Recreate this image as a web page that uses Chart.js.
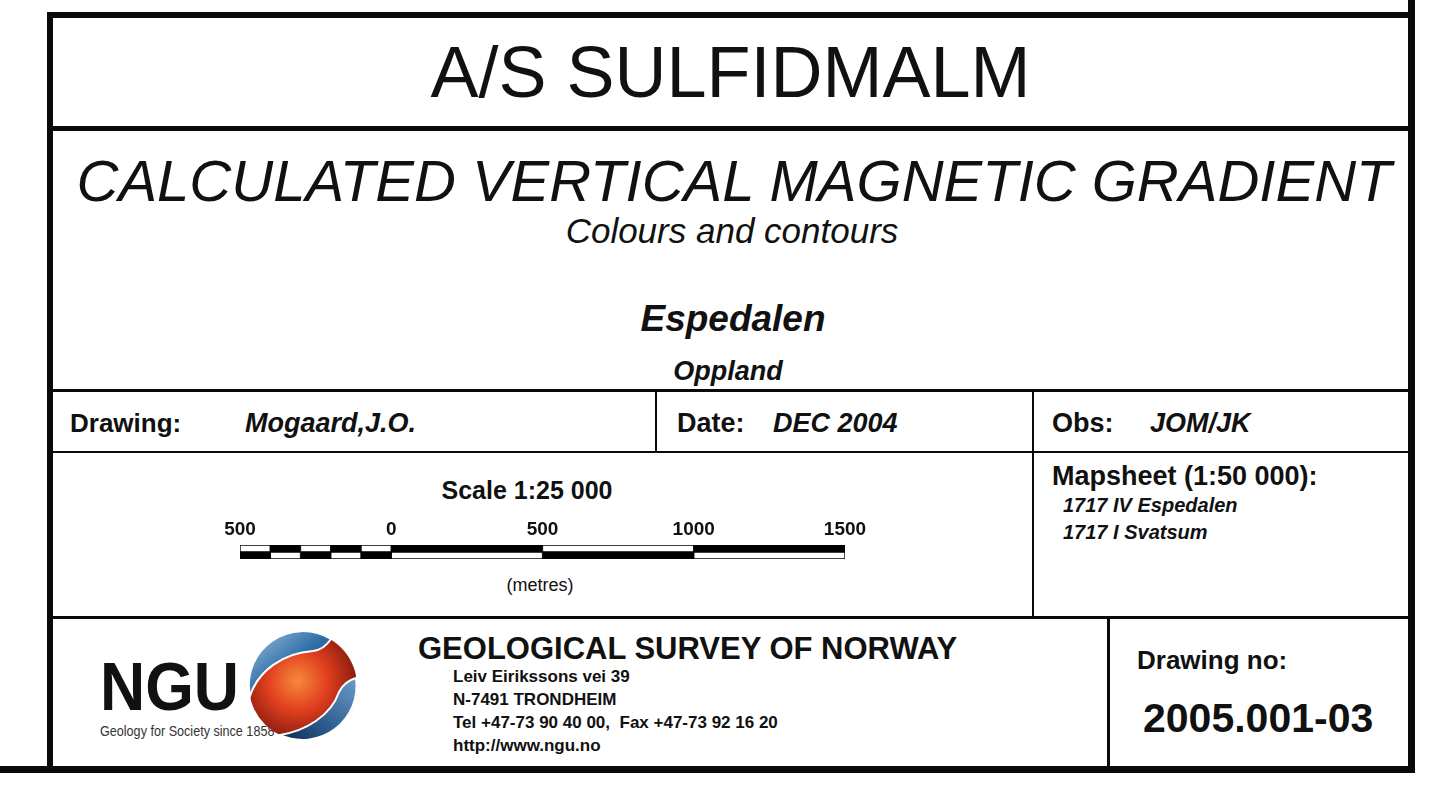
<!DOCTYPE html>
<html>
<head>
<meta charset="utf-8">
<script src="https://cdn.jsdelivr.net/npm/chart.js@4.4.1/dist/chart.umd.min.js"></script>
<style>
  html,body{margin:0;padding:0;background:#fff;}
  body{width:1440px;height:790px;position:relative;overflow:hidden;font-family:"Liberation Sans",Arial,Helvetica,sans-serif;color:#111;}
  .ln{position:absolute;background:#0a0a0a;}
  .t{position:absolute;white-space:nowrap;line-height:1;transform:translateY(-50%);}
  .c{text-align:center;}
  .b{font-weight:bold;}
  .i{font-style:italic;}
  #scaleWrap{position:absolute;left:200px;top:505px;width:685px;height:55px;}
</style>
</head>
<body>
<!-- frame lines -->
<div class="ln" style="left:47px;top:12px;width:1368px;height:6px;"></div>
<div class="ln" style="left:47px;top:12px;width:6px;height:761px;"></div>
<div class="ln" style="left:1408px;top:0px;width:7px;height:773px;"></div>
<div class="ln" style="left:0px;top:766px;width:1415px;height:7px;"></div>
<div class="ln" style="left:47px;top:126px;width:1368px;height:5px;"></div>
<div class="ln" style="left:53px;top:389px;width:1355px;height:3px;"></div>
<div class="ln" style="left:53px;top:451px;width:1355px;height:2px;"></div>
<div class="ln" style="left:53px;top:616px;width:1355px;height:3px;"></div>
<div class="ln" style="left:655px;top:390px;width:2px;height:62px;"></div>
<div class="ln" style="left:1032px;top:390px;width:2px;height:228px;"></div>
<div class="ln" style="left:1107px;top:617px;width:3px;height:150px;"></div>

<!-- title texts -->
<div class="t c" style="left:53px;width:1355px;top:72px;font-size:72px;">A/S SULFIDMALM</div>
<div class="t c i" style="left:53px;width:1362px;top:181px;font-size:58px;">CALCULATED VERTICAL MAGNETIC GRADIENT</div>
<div class="t c i" style="left:53px;width:1358px;top:230px;font-size:35px;">Colours and contours</div>
<div class="t c i b" style="left:53px;width:1360px;top:318px;font-size:37px;">Espedalen</div>
<div class="t c i b" style="left:53px;width:1350px;top:371px;font-size:27px;">Oppland</div>

<!-- drawing row -->
<div class="t b" style="left:70px;top:423px;font-size:26px;">Drawing:</div>
<div class="t b i" style="left:245px;top:423px;font-size:27px;">Mogaard,J.O.</div>
<div class="t b" style="left:677px;top:423px;font-size:27px;">Date:</div>
<div class="t b i" style="left:773px;top:423px;font-size:27px;">DEC 2004</div>
<div class="t b" style="left:1052px;top:423px;font-size:27px;">Obs:</div>
<div class="t b i" style="left:1150px;top:423px;font-size:27px;">JOM/JK</div>

<!-- scale block -->
<div class="t c b" style="left:327px;width:400px;top:490px;font-size:25px;">Scale 1:25 000</div>
<div id="scaleWrap"><canvas id="scaleBar" width="685" height="55"></canvas></div>
<div class="t c" style="left:440px;width:200px;top:585px;font-size:18px;">(metres)</div>

<!-- mapsheet -->
<div class="t b" style="left:1052px;top:476px;font-size:27px;">Mapsheet (1:50 000):</div>
<div class="t b i" style="left:1063px;top:505px;font-size:20px;">1717 IV Espedalen</div>
<div class="t b i" style="left:1063px;top:532px;font-size:20px;">1717 I Svatsum</div>

<!-- NGU logo -->
<div class="t b" style="left:100px;top:686px;font-size:68px;transform:translateY(-50%) scaleX(0.92);transform-origin:left center;">NGU</div>
<div class="t" style="left:100px;top:731px;font-size:14px;color:#333;transform:translateY(-50%) scaleX(0.9);transform-origin:left center;">Geology for Society since 1858</div>
<svg style="position:absolute;left:245px;top:631px;" width="120" height="112" viewBox="0 0 120 112">
  <defs>
    <radialGradient id="rg" cx="0.45" cy="0.45" r="0.6">
      <stop offset="0" stop-color="#f58a3c"/>
      <stop offset="0.45" stop-color="#e2411f"/>
      <stop offset="1" stop-color="#7d140c"/>
    </radialGradient>
    <linearGradient id="bg1" x1="0" y1="0" x2="1" y2="1">
      <stop offset="0" stop-color="#9fc3e0"/>
      <stop offset="0.5" stop-color="#2f6ea8"/>
      <stop offset="1" stop-color="#17355d"/>
    </linearGradient>
    <linearGradient id="bg2" x1="1" y1="0" x2="0" y2="1">
      <stop offset="0" stop-color="#6f9cc8"/>
      <stop offset="0.6" stop-color="#2a5a8e"/>
      <stop offset="1" stop-color="#12284a"/>
    </linearGradient>
  </defs>
  <circle cx="58" cy="55" r="54" fill="url(#rg)"/>
  <path d="M 86 8 A 54 54 0 0 0 5 65 C 13 40 38 22 68 20 C 76 19 82 14 86 8 Z" fill="url(#bg1)" stroke="#fff" stroke-width="2"/>
  <path d="M 111 47 A 54 54 0 0 1 35 104 C 60 100 86 85 94 61 C 98 53 104 49 111 47 Z" fill="url(#bg2)" stroke="#fff" stroke-width="2"/>
</svg>

<!-- NGU address -->
<div class="t b" style="left:418px;top:648px;font-size:31px;">GEOLOGICAL SURVEY OF NORWAY</div>
<div class="t b" style="left:453px;top:676px;font-size:17px;">Leiv Eirikssons vei 39</div>
<div class="t b" style="left:453px;top:699px;font-size:17px;">N-7491 TRONDHEIM</div>
<div class="t b" style="left:453px;top:722px;font-size:17px;">Tel +47-73 90 40 00,&nbsp; Fax +47-73 92 16 20</div>
<div class="t b" style="left:453px;top:745px;font-size:17px;">http://www.ngu.no</div>

<!-- drawing no -->
<div class="t b" style="left:1137px;top:660px;font-size:26px;">Drawing no:</div>
<div class="t b" style="left:1143px;top:718px;font-size:41px;">2005.001-03</div>

<script>
// Scale bar data (metres)
const segmentStarts = [-500, -400, -300, -200, -100, 0, 500, 1000];
const segmentEnds   = [-400, -300, -200, -100, 0, 500, 1000, 1500];
const barRows = ['upper', 'lower'];
const tickValues = [-500, 0, 500, 1000, 1500];

const datasets = segmentStarts.map((s, i) => ({
  data: barRows.map(() => [s, segmentEnds[i]]),
  backgroundColor: (i % 2 === 1) ? ['#000000', '#ffffff'] : ['#ffffff', '#000000'],
  borderColor: '#000000',
  borderWidth: 1,
  borderSkipped: false,
  grouped: false,
  categoryPercentage: 1,
  barPercentage: 1
}));

new Chart(document.getElementById('scaleBar'), {
  type: 'bar',
  data: { labels: barRows, datasets },
  options: {
    indexAxis: 'y',
    responsive: false,
    animation: false,
    devicePixelRatio: 1,
    layout: { padding: { left: 40, right: 40, top: 13, bottom: 1 } },
    plugins: { legend: { display: false }, tooltip: { enabled: false } },
    scales: {
      x: {
        type: 'linear',
        position: 'top',
        min: tickValues[0],
        max: tickValues[tickValues.length - 1],
        afterBuildTicks: (axis) => { axis.ticks = tickValues.map(v => ({ value: v })); },
        afterFit: (axis) => { axis.height = 27; },
        ticks: {
          callback: (v) => String(Math.abs(v)),
          font: { family: 'Liberation Sans, Arial, sans-serif', size: 19, weight: 'bold', lineHeight: 1.2 },
          color: '#111',
          padding: 4,
          maxRotation: 0,
          autoSkip: false
        },
        grid: { display: false, drawTicks: false },
        border: { display: false }
      },
      y: { type: 'category', display: false }
    }
  }
});
</script>
</body>
</html>
